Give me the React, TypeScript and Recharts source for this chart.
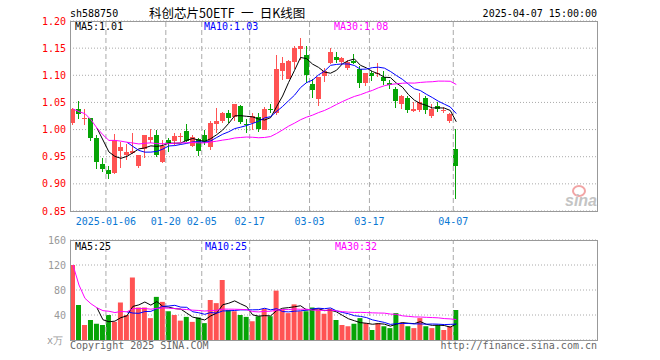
import React from "react";
import {
  ComposedChart,
  Bar,
  Line,
  XAxis,
  YAxis,
  CartesianGrid,
  ReferenceLine,
  Cell,
} from "recharts";

// trading days shown on the chart (65 sessions)
const dates = [
  "2024-12-26", "2024-12-27", "2024-12-30", "2024-12-31", "2025-01-02", "2025-01-03",
  "2025-01-06", "2025-01-07", "2025-01-08", "2025-01-09", "2025-01-10",
  "2025-01-13", "2025-01-14", "2025-01-15", "2025-01-16", "2025-01-17",
  "2025-01-20", "2025-01-21", "2025-01-22", "2025-01-23", "2025-01-24", "2025-01-27",
  "2025-02-05", "2025-02-06", "2025-02-07",
  "2025-02-10", "2025-02-11", "2025-02-12", "2025-02-13", "2025-02-14",
  "2025-02-17", "2025-02-18", "2025-02-19", "2025-02-20", "2025-02-21",
  "2025-02-24", "2025-02-25", "2025-02-26", "2025-02-27", "2025-02-28",
  "2025-03-03", "2025-03-04", "2025-03-05", "2025-03-06", "2025-03-07",
  "2025-03-10", "2025-03-11", "2025-03-12", "2025-03-13", "2025-03-14",
  "2025-03-17", "2025-03-18", "2025-03-19", "2025-03-20", "2025-03-21",
  "2025-03-24", "2025-03-25", "2025-03-26", "2025-03-27", "2025-03-28",
  "2025-03-31", "2025-04-01", "2025-04-02", "2025-04-03", "2025-04-07",
];

const opens = [
  1.012, 1.038, 1.02, 1.021, 0.984, 0.937, 0.926, 0.92, 0.961, 0.953, 0.957,
  0.932, 0.964, 0.981, 0.99, 0.941, 0.98, 0.979, 0.987, 0.998, 0.97, 0.982,
  0.99, 0.968, 1.01, 1.016, 1.031, 1.023, 1.044, 1.011, 1.013, 1.023, 1.0,
  1.037, 1.03, 1.108, 1.093, 1.125, 1.148, 1.137, 1.084, 1.057, 1.099, 1.122,
  1.134, 1.125, 1.113, 1.127, 1.111, 1.085, 1.104, 1.103, 1.097, 1.086, 1.074,
  1.047, 1.058, 1.034, 1.036, 1.059, 1.025, 1.043, 1.035, 1.015, 0.964,
];
const closes = [
  1.038, 1.028, 1.022, 0.985, 0.941, 0.928, 0.918, 0.981, 0.967, 0.959, 0.961,
  0.954, 0.99, 0.986, 0.954, 0.97, 0.976, 0.988, 0.988, 0.979, 0.987, 0.96,
  0.977, 1.013, 1.016, 1.03, 1.021, 1.047, 1.014, 1.01, 1.025, 1.001, 1.038,
  1.036, 1.111, 1.123, 1.126, 1.15, 1.154, 1.101, 1.072, 1.096, 1.107, 1.143,
  1.128, 1.132, 1.125, 1.122, 1.085, 1.104, 1.099, 1.104, 1.09, 1.082, 1.053,
  1.062, 1.036, 1.038, 1.051, 1.036, 1.038, 1.037, 1.036, 1.029, 0.932,
];
const highs = [
  1.04, 1.052, 1.037, 1.021, 0.99, 0.948, 0.932, 0.992, 0.978, 0.973, 0.994,
  0.954, 0.99, 1.001, 0.999, 0.981, 0.985, 0.994, 0.994, 1.01, 0.99, 0.985,
  0.999, 1.016, 1.039, 1.033, 1.036, 1.048, 1.045, 1.02, 1.03, 1.03, 1.041,
  1.047, 1.137, 1.133, 1.128, 1.154, 1.169, 1.154, 1.094, 1.096, 1.113, 1.151,
  1.143, 1.134, 1.128, 1.139, 1.117, 1.105, 1.107, 1.122, 1.107, 1.091, 1.078,
  1.064, 1.062, 1.051, 1.068, 1.062, 1.047, 1.051, 1.042, 1.03, 1.001,
];
const lows = [
  1.008, 1.02, 1.008, 0.979, 0.928, 0.921, 0.909, 0.918, 0.93, 0.944, 0.955,
  0.93, 0.947, 0.975, 0.95, 0.939, 0.959, 0.972, 0.978, 0.978, 0.968, 0.952,
  0.971, 0.963, 0.993, 1.012, 1.012, 1.015, 1.011, 0.993, 0.999, 0.996, 1.0,
  1.03, 1.027, 1.091, 1.093, 1.111, 1.129, 1.085, 1.059, 1.043, 1.088, 1.12,
  1.122, 1.119, 1.109, 1.12, 1.076, 1.08, 1.09, 1.097, 1.082, 1.075, 1.039,
  1.038, 1.03, 1.033, 1.033, 1.029, 1.021, 1.033, 1.03, 1.013, 0.873,
];
// volume, in units of 10,000 (万)
const volumes = [
  120, 56, 24, 32, 26, 24, 40, 29, 60, 40, 100, 52, 52, 35, 69, 61, 46, 40, 31,
  37, 29, 36, 27, 64, 59, 96, 48, 46, 40, 37, 30, 38, 50, 38, 79, 49, 43, 57, 46,
  46, 52, 49, 42, 50, 32, 24, 22, 26, 35, 27, 16, 27, 22, 19, 43, 28, 22, 19, 35,
  22, 19, 24, 16, 22, 48,
];

const tickDates = ["2025-01-06", "2025-01-20", "2025-02-05", "2025-02-17", "2025-03-03", "2025-03-17", "2025-04-07"];
const tickTexts = ["2025-01-06", "01-20", "02-05", "02-17", "03-03", "03-17", "04-07"];
const priceTicks = [0.85, 0.9, 0.95, 1.0, 1.05, 1.1, 1.15, 1.2];
const volTicks = [0, 40, 80, 120, 160];

const SLOTS = 88; // the panel keeps room for more sessions than are drawn
const RED = "#ff5353";
const GREEN = "#06a406";
const GRID = "#aaaaaa";
const MONO = "'DejaVu Sans Mono', monospace";

// Sina draws MA5/MA10 only once the window is full, MA30 from the first day
function movingAvg(vals: number[], n: number, partial: boolean) {
  return vals.map((_, i) => {
    if (i < n - 1 && !partial) return null;
    const win = vals.slice(Math.max(0, i - n + 1), i + 1);
    return win.reduce((a, b) => a + b, 0) / win.length;
  });
}

const ma5 = movingAvg(closes, 5, false);
const ma10 = movingAvg(closes, 10, false);
const ma30 = movingAvg(closes, 30, true);
const vma5 = movingAvg(volumes, 5, false);
const vma10 = movingAvg(volumes, 10, false);
const vma30 = movingAvg(volumes, 30, true);

const rows = Array.from({ length: SLOTS }, (_, i) => {
  if (i >= dates.length) return { date: `slot-${i}` };
  return {
    date: dates[i],
    open: opens[i],
    close: closes[i],
    high: highs[i],
    low: lows[i],
    range: [lows[i], highs[i]],
    vol: volumes[i],
    ma5: ma5[i],
    ma10: ma10[i],
    ma30: ma30[i],
    vma5: vma5[i],
    vma10: vma10[i],
    vma30: vma30[i],
  };
});

function Candle(props: any) {
  const { x, y, width, height, payload } = props;
  if (!payload || payload.open == null) return null;
  const { open, close, high, low } = payload;
  const color = close >= open ? RED : GREEN;
  const top = Math.min(y, y + height);
  const h = Math.abs(height);
  const span = high - low;
  const py = (v: number) => (span > 0 ? top + ((high - v) / span) * h : top);
  const bodyTop = py(Math.max(open, close));
  const bodyBot = py(Math.min(open, close));
  const cx = Math.floor(x + width / 2);
  return (
    <g shapeRendering="crispEdges">
      <rect x={cx} y={top} width={1} height={Math.max(h, 1)} fill={color} />
      <rect x={x} y={bodyTop} width={width} height={Math.max(bodyBot - bodyTop, 1)} fill={color} />
    </g>
  );
}

function DateTick(props: any) {
  const { x, y, payload } = props;
  const label = tickTexts[tickDates.indexOf(payload.value)];
  return (
    <text x={x - 3} y={y} dy={7} textAnchor="middle" fontSize={10} fontFamily={MONO} fill="#0a78d4">
      {label}
    </text>
  );
}

function VolTick(props: any) {
  const { x, y, payload } = props;
  const zero = payload.value === 0;
  return (
    <text x={zero ? x - 3 : x} y={y} dy={3.5} textAnchor="end" fontSize={10} fontFamily={MONO} fill="#999">
      {zero ? "x万" : payload.value}
    </text>
  );
}

export default function App() {
  return (
    <div
      style={{
        position: "absolute",
        left: 0,
        top: 0,
        width: 660,
        height: 360,
        background: "#fff",
        overflow: "hidden",
      }}
    >
      <div style={{ position: "absolute", left: 0, top: 0 }}>
        <ComposedChart width={660} height={230} data={rows} margin={{ top: 21, right: 63, bottom: 0, left: 0 }}>
          <CartesianGrid vertical={false} stroke={GRID} strokeDasharray="1 2" />
          <XAxis
            dataKey="date"
            ticks={tickDates}
            interval={0}
            height={19}
            tickSize={0}
            tickMargin={7}
            axisLine={false}
            tickLine={false}
            tick={<DateTick />}
          />
          <YAxis
            domain={[0.85, 1.2]}
            ticks={priceTicks}
            width={70}
            tickSize={0}
            tickMargin={4}
            axisLine={false}
            tickLine={false}
            tickFormatter={(v: number) => v.toFixed(2)}
            tick={{ fontSize: 10, fill: "#ff0000", fontFamily: MONO }}
          />
          {tickDates.map((d) => (
            <ReferenceLine key={d} x={d} position="start" stroke={GRID} strokeDasharray="5 3" />
          ))}
          <Bar dataKey="range" barSize={5} shape={(p: any) => <Candle {...p} />} isAnimationActive={false} />
          <Line dataKey="ma5" stroke="#000000" strokeWidth={1} dot={false} isAnimationActive={false} />
          <Line dataKey="ma10" stroke="#0000ff" strokeWidth={1} dot={false} isAnimationActive={false} />
          <Line dataKey="ma30" stroke="#ff00ff" strokeWidth={1} dot={false} isAnimationActive={false} />
        </ComposedChart>
      </div>

      <div style={{ position: "absolute", left: 0, top: 230 }}>
        <ComposedChart width={660} height={130} data={rows} margin={{ top: 10, right: 63, bottom: 20, left: 0 }}>
          <CartesianGrid vertical={false} stroke={GRID} strokeDasharray="1 2" />
          <XAxis dataKey="date" hide />
          <YAxis
            domain={[0, 160]}
            ticks={volTicks}
            width={70}
            tickSize={0}
            tickMargin={4}
            axisLine={false}
            tickLine={false}
            tick={<VolTick />}
          />
          {tickDates.map((d) => (
            <ReferenceLine key={d} x={d} position="start" stroke={GRID} strokeDasharray="5 3" />
          ))}
          <Bar dataKey="vol" barSize={5} isAnimationActive={false}>
            {rows.map((r: any, i) => (
              <Cell key={i} fill={r.close >= r.open ? RED : GREEN} />
            ))}
          </Bar>
          <Line dataKey="vma5" stroke="#000000" strokeWidth={1} dot={false} isAnimationActive={false} />
          <Line dataKey="vma10" stroke="#0000ff" strokeWidth={1} dot={false} isAnimationActive={false} />
          <Line dataKey="vma30" stroke="#ff00ff" strokeWidth={1} dot={false} isAnimationActive={false} />
        </ComposedChart>
      </div>

      <svg
        width={660}
        height={360}
        style={{ position: "absolute", left: 0, top: 0, pointerEvents: "none" }}
        fontFamily={MONO}
        fontSize={10}
      >
        <rect x={70.5} y={21.5} width={527} height={190} fill="none" stroke="#999" />
        <rect x={70.5} y={240.5} width={527} height={100} fill="none" stroke="#999" />

        <text x={70} y={17} fill="#000">sh588750</text>
        <text x={149} y={17.5} fontSize={12.5} fontFamily="'Noto Sans CJK SC', sans-serif" fill="#000">
          {"科创芯片50ETF\u2002一\u2002日K线图"}
        </text>
        <text x={597} y={17} textAnchor="end" fill="#000">2025-04-07 15:00:00</text>

        <text x={75} y={30} fill="#000">MA5:1.01</text>
        <text x={204} y={30} fill="#0000ff">MA10:1.03</text>
        <text x={334} y={30} fill="#ff00ff">MA30:1.08</text>

        <text x={75} y={250} fill="#000">MA5:25</text>
        <text x={205} y={250} fill="#0000ff">MA10:25</text>
        <text x={335} y={250} fill="#ff00ff">MA30:32</text>

        <ellipse cx={579} cy={191} rx={6} ry={5} fill="none" stroke="#f2a5a5" strokeWidth={2} />
        <text x={565} y={206} fontSize={16} fontStyle="italic" fontWeight="bold" fontFamily="'Liberation Sans', sans-serif" fill="#c4c4c4">
          sina
        </text>

        <text x={70} y={349} fill="#666">Copyright 2025 SINA.COM</text>
        <text x={597} y={349} textAnchor="end" fill="#666">http://finance.sina.com.cn</text>
      </svg>
    </div>
  );
}
